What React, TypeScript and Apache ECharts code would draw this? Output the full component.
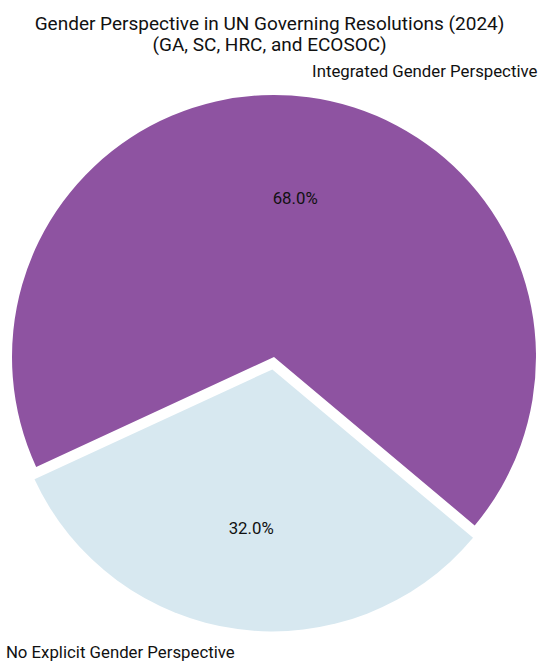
import React, { useEffect, useRef } from "react";
import * as echarts from "echarts";

const categories = ["Integrated Gender Perspective", "No Explicit Gender Perspective"];
const values = [68, 32];
const colors = ["#8E53A1", "#D7E8F0"];
const titleLines = ["Gender Perspective in UN Governing Resolutions (2024)", "(GA, SC, HRC, and ECOSOC)"];

const FONT = "Roboto, 'Noto Sans', sans-serif";
const R = 262;
const CX = 274;
const CY = 357;
const EXPLODE = 12.5;

export default function App() {
  const ref = useRef<HTMLDivElement>(null);
  useEffect(() => {
    if (!ref.current) return;
    const chart = echarts.init(ref.current, undefined, { renderer: "svg" });
    const total = values.reduce((a, b) => a + b, 0);
    const data = categories.map((name, i) => ({
      name,
      value: values[i],
      selected: i === 1,
      itemStyle: { color: colors[i] },
      labelLine: { show: false, length: i === 1 ? R * 0.1 - 3.5 : R * 0.1, length2: 0 },
    }));
    const ghostData = categories.map((name, i) => ({
      name,
      value: values[i],
      selected: i === 1,
      itemStyle: { color: "rgba(0,0,0,0)" },
    }));
    chart.setOption({
      animation: false,
      backgroundColor: "#ffffff",
      title: {
        text: titleLines.join("\n"),
        left: "center",
        top: 8,
        textStyle: {
          fontFamily: FONT,
          fontSize: 19,
          fontWeight: "normal",
          color: "#111",
          lineHeight: 21,
        },
      },
      series: [
        {
          type: "pie",
          center: [CX, CY],
          radius: [0, R],
          startAngle: -40,
          clockwise: false,
          selectedMode: "single",
          selectedOffset: EXPLODE,
          silent: true,
          avoidLabelOverlap: false,
          emphasis: { disabled: true },
          itemStyle: { borderWidth: 0 },
          label: {
            show: true,
            position: "outside",
            formatter: "{b}",
            fontFamily: FONT,
            fontSize: 16.8,
            color: "#111",
            distanceToLabelLine: 0,
            width: 260,
            overflow: "none",
          },
          labelLine: { show: false, length: R * 0.1, length2: 0 },
          data,
        },
        {
          type: "pie",
          center: [CX, CY],
          radius: [0, R * 1.2],
          startAngle: -40,
          clockwise: false,
          selectedMode: "single",
          selectedOffset: EXPLODE,
          silent: true,
          emphasis: { disabled: true },
          itemStyle: { borderWidth: 0 },
          label: {
            show: true,
            position: "inside",
            formatter: (p: any) => ((p.value / total) * 100).toFixed(1) + "%",
            fontFamily: FONT,
            fontSize: 16.8,
            color: "#111",
          },
          labelLine: { show: false },
          data: ghostData,
        },
      ],
    });
    return () => chart.dispose();
  }, []);
  return (
    <div
      ref={ref}
      style={{ position: "absolute", left: 0, top: 0, width: 539, height: 663 }}
    />
  );
}
